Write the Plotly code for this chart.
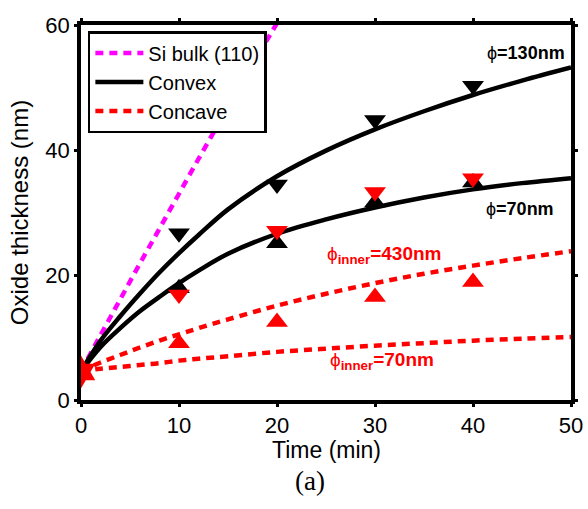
import plotly.graph_objects as go

# Oxidation time (min) sampled along the model curves
t_si = [0, 2, 4, 6, 8, 10, 12, 14, 16, 18, 20]
si_bulk = [4.6, 10.4, 16.1, 21.8, 27.4, 33.0, 38.6, 44.1, 49.6, 55.0, 60.3]

t_fit = [0, 2, 4, 6, 8, 10, 12, 15, 20, 25, 30, 35, 40, 45, 50]
convex_130 = [4.6, 9.5, 13.4, 17.0, 20.4, 23.5, 26.4, 30.5, 35.8, 39.9, 43.3, 46.2, 48.8, 51.1, 53.2]
convex_70 = [4.6, 8.5, 11.5, 14.2, 16.5, 18.7, 20.7, 23.4, 26.6, 28.9, 30.8, 32.4, 33.7, 34.7, 35.5]
concave_430 = [4.6, 6.0, 7.2, 8.4, 9.5, 10.5, 11.5, 12.9, 15.1, 17.0, 18.7, 20.2, 21.5, 22.7, 23.8]
concave_70 = [4.6, 5.0, 5.3, 5.6, 5.9, 6.3, 6.6, 7.0, 7.7, 8.2, 8.7, 9.1, 9.5, 9.8, 10.1]

# Measured thickness at each oxidation time
t_meas = [10, 20, 30, 40]
meas_convex_130 = [26.7, 34.5, 44.8, 50.3]
meas_convex_70 = [17.9, 25.1, 31.6, 34.8]
meas_concave_70 = [16.9, 27.1, 33.3, 35.5]
meas_concave_430 = [9.1, 12.5, 16.5, 18.9]
t_start = [0]
start_thickness = [4.5]

RED = "#ff0000"
MAGENTA = "#ff00ff"
DASH = "8px,6px"
LW = 4.5
SANS = "Liberation Sans, Arial, sans-serif"

fig = go.Figure()

fig.add_trace(go.Scatter(x=t_si, y=si_bulk, mode="lines", name="Si bulk (110)",
                         line=dict(color=MAGENTA, width=LW, dash=DASH, shape="spline")))
fig.add_trace(go.Scatter(x=t_fit, y=convex_130, mode="lines", name="Convex",
                         line=dict(color="black", width=LW, shape="spline")))
fig.add_trace(go.Scatter(x=t_fit, y=concave_430, mode="lines", name="Concave",
                         line=dict(color=RED, width=LW, dash=DASH, shape="spline")))
fig.add_trace(go.Scatter(x=t_fit, y=convex_70, mode="lines", showlegend=False,
                         line=dict(color="black", width=LW, shape="spline")))
fig.add_trace(go.Scatter(x=t_fit, y=concave_70, mode="lines", showlegend=False,
                         line=dict(color=RED, width=LW, dash=DASH, shape="spline")))

def markers(x, y, symbol, color, size=19):
    fig.add_trace(go.Scatter(x=x, y=y, mode="markers", showlegend=False,
                             marker=dict(symbol=symbol, color=color, size=size,
                                         line=dict(width=0))))

markers(t_meas, meas_convex_70, "triangle-up", "black")
markers(t_meas, meas_convex_130, "triangle-down", "black")
markers(t_meas, meas_concave_430, "triangle-up", RED)
markers(t_meas, meas_concave_70, "triangle-down", RED)
markers(t_start, start_thickness, "hexagram", RED, size=25)

label_font = dict(family=SANS, size=18, color="black")
red_font = dict(family=SANS, size=19, color=RED)

fig.add_annotation(x=49.6, y=55.5, xanchor="right", yanchor="middle", showarrow=False,
                   text="ϕ<b>=130nm</b>", font=label_font)
fig.add_annotation(x=48.5, y=30.6, xanchor="right", yanchor="middle", showarrow=False,
                   text="ϕ<b>=70nm</b>", font=label_font)
fig.add_annotation(x=24.9, y=23.2, xanchor="left", yanchor="middle", showarrow=False,
                   text="ϕ<sub><b>inner</b></sub><b>=430nm</b>", font=red_font)
fig.add_annotation(x=25.2, y=6.2, xanchor="left", yanchor="middle", showarrow=False,
                   text="ϕ<sub><b>inner</b></sub><b>=70nm</b>", font=red_font)

# x-axis title and panel caption below the tick labels
fig.add_annotation(x=0.5, y=-0.132, xref="paper", yref="paper", showarrow=False,
                   xanchor="center", yanchor="middle", text="Time (min)",
                   font=dict(family=SANS, size=23, color="black"))
fig.add_annotation(x=0.468, y=-0.215, xref="paper", yref="paper", showarrow=False,
                   xanchor="center", yanchor="middle", text="(a)",
                   font=dict(family="Liberation Serif, serif", size=27, color="black"))

axis_common = dict(showline=True, linecolor="black", linewidth=3.5, mirror="ticks",
                   ticks="outside", ticklen=3, tickwidth=3, tickcolor="black",
                   showgrid=False, zeroline=False, automargin=False,
                   tickfont=dict(family=SANS, size=22, color="black"))

fig.update_xaxes(range=[0, 50], tickvals=[0, 10, 20, 30, 40, 50], **axis_common)
fig.update_yaxes(range=[0, 60], tickvals=[0, 20, 40, 60],
                 title=dict(text="Oxide thickness (nm)", standoff=11,
                            font=dict(family=SANS, size=24, color="black")),
                 **axis_common)

fig.update_layout(
    width=588, height=509,
    margin=dict(l=81, r=17, t=25, b=109, autoexpand=False),
    plot_bgcolor="white", paper_bgcolor="white",
    legend=dict(x=0.014, y=0.984, xanchor="left", yanchor="top",
                bgcolor="white", bordercolor="black", borderwidth=2.5,
                font=dict(family=SANS, size=20, color="black"),
                itemwidth=48, tracegroupgap=0),
)

fig.write_html("out.html")
